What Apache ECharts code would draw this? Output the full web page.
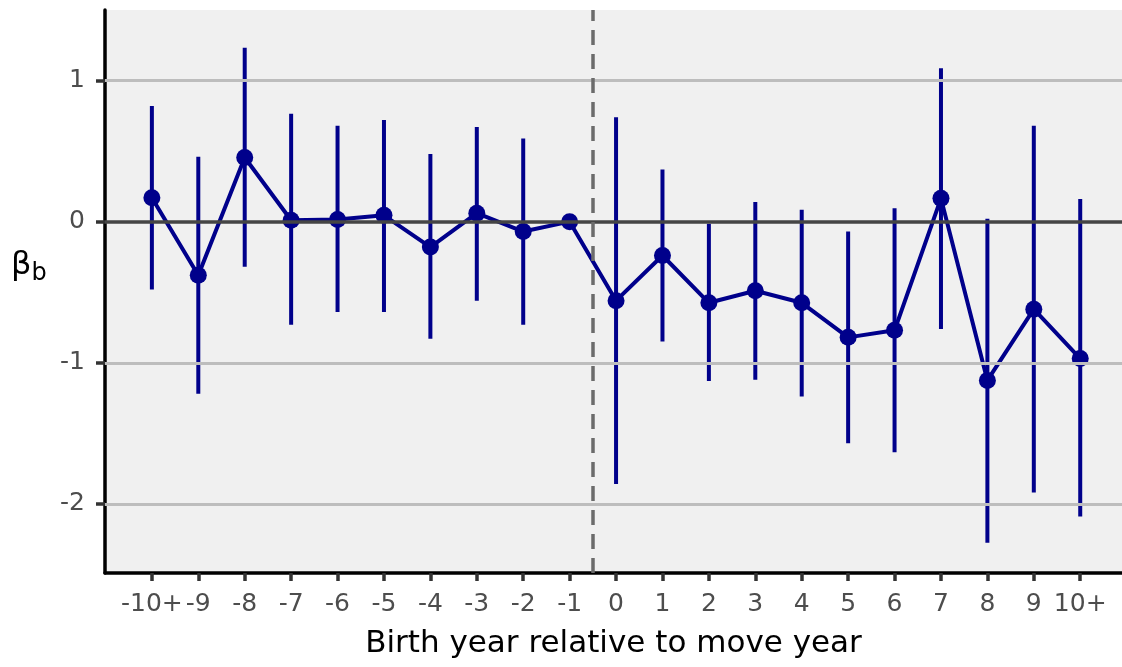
<!DOCTYPE html>
<html>
<head>
<meta charset="utf-8">
<script src="https://cdn.jsdelivr.net/npm/echarts@6/dist/echarts.min.js"></script>
<style>
html,body{margin:0;padding:0;background:#fff;}
#chart{width:1122px;height:667px;}
</style>
</head>
<body>
<div id="chart"></div>
<script>
// Categories (birth year relative to move year)
const categories = ['-10+','-9','-8','-7','-6','-5','-4','-3','-2','-1','0','1','2','3','4','5','6','7','8','9','10+'];
// Point estimates
const estimates = [0.17, -0.38, 0.455, 0.01, 0.015, 0.045, -0.18, 0.06, -0.07, 0.0, -0.56, -0.24, -0.575, -0.49, -0.575, -0.82, -0.77, 0.165, -1.125, -0.62, -0.97];
// Confidence interval bounds (null = no interval, reference year)
const lower = [-0.48, -1.22, -0.32, -0.73, -0.64, -0.64, -0.83, -0.56, -0.73, null, -1.86, -0.85, -1.13, -1.12, -1.24, -1.57, -1.635, -0.76, -2.275, -1.92, -2.09];
const upper = [0.82, 0.46, 1.233, 0.765, 0.68, 0.72, 0.48, 0.67, 0.59, null, 0.74, 0.37, -0.015, 0.14, 0.085, -0.07, 0.095, 1.087, 0.02, 0.68, 0.16];
// Y tick values
const yTicks = [-2, -1, 0, 1];
const gridValues = [-2, -1, 1];
const refLine = 0;
const moveBoundary = 9.5;

const xTicks = categories.map((c, i) => i);
const pointData = estimates.map((v, i) => [i, v]);
const barData = [];
categories.forEach((c, i) => {
  if (lower[i] !== null && upper[i] !== null) barData.push([i, lower[i], upper[i]]);
});

const NAVY = '#00008B';
const chart = echarts.init(document.getElementById('chart'), null, {renderer: 'canvas'});
chart.setOption({
  animation: false,
  backgroundColor: '#ffffff',
  grid: {
    left: 105, right: 0, top: 10, bottom: 94,
    show: true, backgroundColor: '#f0f0f0', borderWidth: 0
  },
  xAxis: {
    type: 'value',
    min: -1.01, max: 20.9,
    name: 'Birth year relative to move year',
    nameLocation: 'middle',
    nameGap: 55,
    nameTextStyle: {fontFamily: 'DejaVu Sans', fontSize: 31, color: '#000'},
    axisLine: {show: true, onZero: false, lineStyle: {color: '#000', width: 3.5}},
    axisTick: {show: true, customValues: xTicks, length: 8, lineStyle: {color: '#333', width: 3.5}},
    axisLabel: {
      customValues: xTicks,
      fontFamily: 'DejaVu Sans', fontSize: 25, color: '#4d4d4d', margin: 19,
      formatter: v => categories[Math.round(v)]
    },
    splitLine: {show: false}
  },
  yAxis: {
    type: 'value',
    min: -2.49, max: 1.5,
    axisLine: {show: true, onZero: false, lineStyle: {color: '#000', width: 3.5}},
    axisTick: {show: true, customValues: yTicks, length: 9, lineStyle: {color: '#333', width: 3.5}},
    axisLabel: {customValues: yTicks, fontFamily: 'DejaVu Sans', fontSize: 25, color: '#4d4d4d', margin: 20},
    splitLine: {show: false}
  },
  graphic: [{
    type: 'text', left: 11, top: 250,
    style: {
      text: '{b|β}{s|b}',
      rich: {
        b: {fontFamily: 'DejaVu Sans', fontSize: 32, fill: '#000'},
        s: {fontFamily: 'DejaVu Sans', fontSize: 24, fill: '#000', padding: [16, 0, 0, 0]}
      }
    }
  }],
  series: [
    {
      type: 'line', data: [], z: 1, silent: true,
      markLine: {
        silent: true, symbol: ['none', 'none'], label: {show: false},
        data: [
          ...gridValues.map(v => ({yAxis: v, lineStyle: {color: '#bdbdbd', width: 3, type: 'solid'}})),
          {yAxis: refLine, lineStyle: {color: '#454545', width: 3.5, type: 'solid'}},
          {xAxis: moveBoundary, lineStyle: {color: '#6b6b6b', width: 3.5, type: [15, 9]}}
        ]
      }
    },
    {
      type: 'custom', z: 2, silent: true,
      data: barData,
      encode: {x: 0, y: [1, 2]},
      renderItem: function (params, api) {
        const x = api.value(0);
        const p1 = api.coord([x, api.value(1)]);
        const p2 = api.coord([x, api.value(2)]);
        return {type: 'line', shape: {x1: p1[0], y1: p1[1], x2: p2[0], y2: p2[1]},
                style: {stroke: NAVY, lineWidth: 4}};
      }
    },
    {
      type: 'line', z: 3, silent: true,
      data: pointData,
      symbol: 'circle', symbolSize: 17,
      itemStyle: {color: NAVY},
      lineStyle: {color: NAVY, width: 4}
    }
  ]
});
</script>
</body>
</html>
